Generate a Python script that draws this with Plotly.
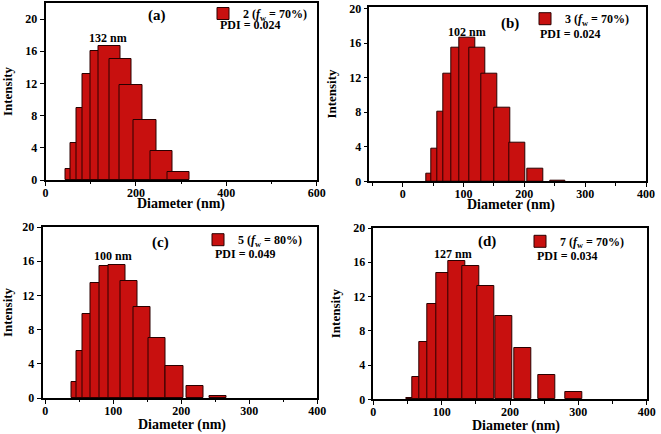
import plotly.graph_objects as go

# ---- data ----
a_diam = [69, 79, 92, 107, 123, 142, 165, 189, 220, 256, 295]
a_int = [1.35, 4.6, 9.0, 13.2, 16.0, 16.7, 15.1, 11.8, 7.5, 3.6, 0.95]
b_diam = [51, 59, 69, 79, 92, 106, 123, 142, 164, 188, 218, 255]
b_int = [0.9, 3.8, 8.0, 12.4, 15.5, 16.6, 15.5, 12.5, 8.5, 4.5, 1.5, 0.05]
c_diam = [51, 59, 68, 79, 92, 106, 123, 142, 164, 190, 220, 254]
c_int = [1.85, 5.5, 9.8, 13.4, 15.4, 15.5, 13.7, 10.6, 7.0, 3.8, 1.4, 0.2]
d_diam = [61, 69, 80, 92, 105, 122, 142, 164, 191, 219, 254, 293]
d_int = [0.15, 2.6, 6.7, 11.1, 14.7, 16.2, 15.6, 13.2, 9.7, 6.0, 2.8, 0.8]

panel_labels = ["(a)", "(b)", "(c)", "(d)"]
series_names = ["2 (<i>f</i><sub>w</sub> = 70%)", "3 (<i>f</i><sub>w</sub> = 70%)",
                "5 (<i>f</i><sub>w</sub> = 80%)", "7 (<i>f</i><sub>w</sub> = 70%)"]
peak_labels = ["132 nm", "102 nm", "100 nm", "127 nm"]
pdi_labels = ["PDI = 0.024", "PDI = 0.024", "PDI = 0.049", "PDI = 0.034"]
x_title = "Diameter (nm)"
y_title = "Intensity"

W, H = 661, 434
FONT = "Liberation Serif"
BAR_COLOR = "#c8100f"
LINE_COLOR = "#2a0000"

panels = [
    dict(x=a_diam, y=a_int, width=49, xr=[0, 600], yr=[0, 22], dtick=200, minor=100,
         dom_px=(45.5, 316.7, 3, 180), xt=(180.8, 204),
         lab=(246.7, 20.5), peak=(138, 17.7), pdi=(382, 19.3), leg=(243, 13.5)),
    dict(x=b_diam, y=b_int, width=25.6, xr=[-55, 400], yr=[0, 20.2], dtick=100, minor=50,
         dom_px=(369.3, 646, 6.7, 181.3), xt=(510.7, 205),
         lab=(177, 18.2), peak=(106, 17.3), pdi=(223, 17.1), leg=(565, 18.7)),
    dict(x=c_diam, y=c_int, width=25.5, xr=[-4, 400], yr=[0, 20], dtick=100, minor=50,
         dom_px=(42.5, 317.3, 227, 398), xt=(181.7, 424.5),
         lab=(169, 18.2), peak=(100, 16.6), pdi=(247, 16.8), leg=(238, 239.7)),
    dict(x=d_diam, y=d_int, width=24.9, xr=[0, 400], yr=[0, 20], dtick=100, minor=50,
         dom_px=(373.3, 646.7, 228, 399.3), xt=(515.8, 425.5),
         lab=(166, 18.4), peak=(117, 17.0), pdi=(237, 16.7), leg=(560, 241.3)),
]

fig = go.Figure()
annotations = []
layout = dict(
    template="none",
    width=W, height=H, margin=dict(l=0, r=0, t=0, b=0, autoexpand=False),
    paper_bgcolor="white", plot_bgcolor="white",
    font=dict(family=FONT, color="black"),
    barmode="overlay", bargap=0,
)

for i, p in enumerate(panels):
    n = "" if i == 0 else str(i + 1)
    xa, ya = "x" + n, "y" + n
    leg = "legend" + n
    fig.add_trace(go.Bar(
        x=p["x"], y=p["y"], width=p["width"],
        xaxis=xa, yaxis=ya, name=series_names[i], legend=leg,
        marker=dict(color=BAR_COLOR, line=dict(color=LINE_COLOR, width=1)),
        showlegend=True,
    ))
    x0, x1, y0, y1 = p["dom_px"]
    axfont = dict(family=FONT, size=12, color="black", weight="bold")
    layout["xaxis" + n] = dict(
        domain=[x0 / W, x1 / W], range=p["xr"], anchor=ya, automargin=False,
        showline=True, linecolor="black", linewidth=1.5, mirror=True,
        ticks="outside", ticklen=4, tickwidth=1.2, tickcolor="black",
        dtick=p["dtick"], tick0=0, tickfont=axfont, ticklabelstandoff=-3,
        minor=dict(ticks="outside", ticklen=2.5, dtick=p["minor"], tickcolor="black"),
        showgrid=False, zeroline=False,
    )
    layout["yaxis" + n] = dict(
        domain=[1 - y1 / H, 1 - y0 / H], range=p["yr"], anchor=xa, automargin=False,
        showline=True, linecolor="black", linewidth=1.5, mirror=True,
        ticks="outside", ticklen=4, tickwidth=1.2, tickcolor="black",
        dtick=4, tick0=0, tickfont=axfont,
        showgrid=False, zeroline=False,
        title=dict(text=y_title, font=dict(family=FONT, size=13, color="black", weight="bold"),
                   standoff=10),
    )
    lx, ly = p["leg"]
    layout[leg] = dict(
        x=(lx - 40) / W, y=1 - ly / H, xanchor="left", yanchor="middle",
        bgcolor="rgba(0,0,0,0)", borderwidth=0,
        font=dict(family=FONT, size=12, color="black", weight="bold"),
    )
    # x-axis title
    annotations.append(dict(text=x_title, x=p["xt"][0] / W, y=1 - p["xt"][1] / H,
                            xref="paper", yref="paper", xanchor="center", yanchor="middle",
                            showarrow=False,
                            font=dict(family=FONT, size=14, color="black", weight="bold")))
    annotations.append(dict(text=panel_labels[i], x=p["lab"][0], y=p["lab"][1], xref=xa, yref=ya,
                            showarrow=False, font=dict(family=FONT, size=15, color="black", weight="bold")))
    annotations.append(dict(text=peak_labels[i], x=p["peak"][0], y=p["peak"][1], xref=xa, yref=ya,
                            showarrow=False, font=dict(family=FONT, size=12, color="black", weight="bold")))
    annotations.append(dict(text=pdi_labels[i], x=p["pdi"][0], y=p["pdi"][1], xref=xa, yref=ya,
                            xanchor="left", showarrow=False,
                            font=dict(family=FONT, size=12, color="black", weight="bold")))

layout["annotations"] = annotations
fig.update_layout(**layout)
fig.write_html("out.html", config={"displayModeBar": False},
               post_script="document.body.style.margin='0';")
